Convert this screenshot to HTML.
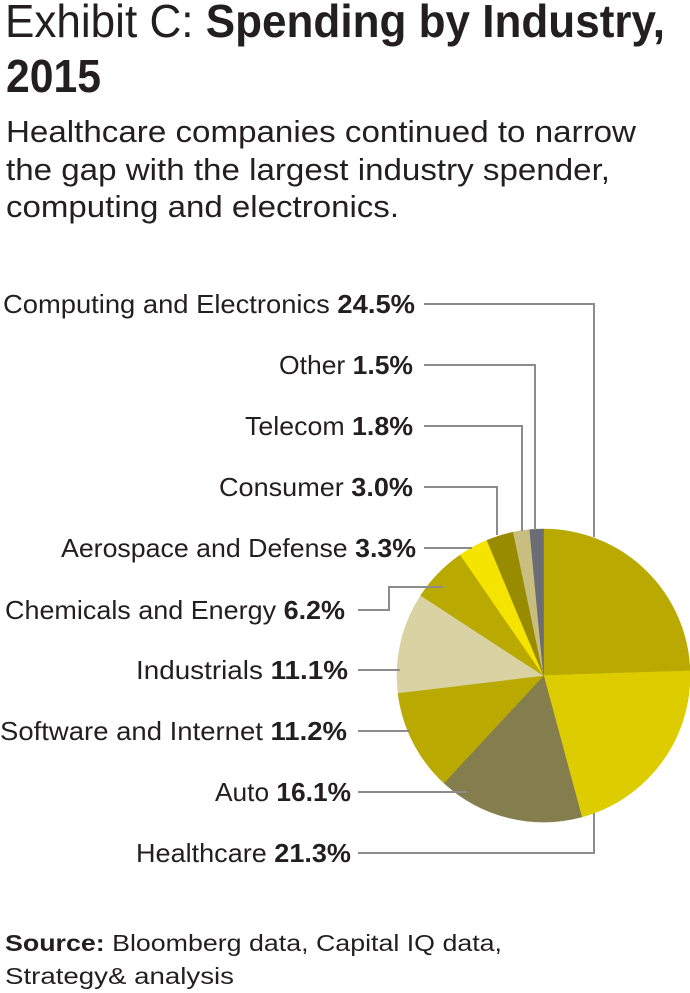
<!DOCTYPE html>
<html>
<head>
<meta charset="utf-8">
<style>
  html,body{margin:0;padding:0;background:#fff;}
  body{width:690px;height:993px;overflow:hidden;}
  svg{display:block;}
  text{font-family:"Liberation Sans",sans-serif;fill:#231f20;}
  .b{font-weight:bold;}
</style>
</head>
<body>
<svg width="690" height="993" viewBox="0 0 690 993" xmlns="http://www.w3.org/2000/svg">
  <!-- Title -->
  <text x="5" y="37" font-size="46" textLength="660" lengthAdjust="spacingAndGlyphs">Exhibit C: <tspan class="b">Spending by Industry,</tspan></text>
  <text x="6" y="92" font-size="46" class="b" textLength="95" lengthAdjust="spacingAndGlyphs">2015</text>

  <!-- Subtitle -->
  <text x="6" y="142" font-size="31" textLength="630" lengthAdjust="spacingAndGlyphs">Healthcare companies continued to narrow</text>
  <text x="6" y="180" font-size="31" textLength="604" lengthAdjust="spacingAndGlyphs">the gap with the largest industry spender,</text>
  <text x="6" y="217" font-size="31" textLength="393" lengthAdjust="spacingAndGlyphs">computing and electronics.</text>

  <!-- Pie -->
  <g stroke-width="0.6">
    <path d="M543.5 675.5 L543.5 529 A146.5 146.5 0 0 1 689.93 670.90 Z" fill="#b9a900" stroke="#b9a900"/>
    <path d="M543.5 675.5 L689.93 670.90 A146.5 146.5 0 0 1 581.71 816.93 Z" fill="#ddcc00" stroke="#ddcc00"/>
    <path d="M543.5 675.5 L581.71 816.93 A146.5 146.5 0 0 1 443.87 782.91 Z" fill="#847e4e" stroke="#847e4e"/>
    <path d="M543.5 675.5 L443.87 782.91 A146.5 146.5 0 0 1 398.04 692.95 Z" fill="#b9a900" stroke="#b9a900"/>
    <path d="M543.5 675.5 L398.04 692.95 A146.5 146.5 0 0 1 420.79 595.47 Z" fill="#d9d2a3" stroke="#d9d2a3"/>
    <path d="M543.5 675.5 L420.79 595.47 A146.5 146.5 0 0 1 460.40 554.85 Z" fill="#b9a900" stroke="#b9a900"/>
    <path d="M543.5 675.5 L460.40 554.85 A146.5 146.5 0 0 1 487.01 540.33 Z" fill="#f5e400" stroke="#f5e400"/>
    <path d="M543.5 675.5 L487.01 540.33 A146.5 146.5 0 0 1 513.34 532.14 Z" fill="#998b00" stroke="#998b00"/>
    <path d="M543.5 675.5 L513.34 532.14 A146.5 146.5 0 0 1 529.71 529.65 Z" fill="#c8be80" stroke="#c8be80"/>
    <path d="M543.5 675.5 L529.71 529.65 A146.5 146.5 0 0 1 543.5 529 Z" fill="#6c6c74" stroke="#6c6c74"/>
  </g>

  <!-- Leader lines -->
  <g fill="none" stroke="#8c8c8c" stroke-width="2">
    <path d="M424 304 H594 V537"/>
    <path d="M424 365 H535 V530"/>
    <path d="M424 426 H522 V531"/>
    <path d="M424 487 H497 V535"/>
    <path d="M424 548 H472"/>
    <path d="M358 610 H389 V587 H443"/>
    <path d="M358 670 H400"/>
    <path d="M358 731 H410"/>
    <path d="M358 792 H467"/>
    <path d="M358 853 H594 V813"/>
  </g>

  <!-- Labels -->
  <g font-size="26">
    <text x="3" y="313" textLength="412" lengthAdjust="spacingAndGlyphs">Computing and Electronics <tspan class="b">24.5%</tspan></text>
    <text x="279" y="374" textLength="134" lengthAdjust="spacingAndGlyphs">Other <tspan class="b">1.5%</tspan></text>
    <text x="245" y="435" textLength="168" lengthAdjust="spacingAndGlyphs">Telecom <tspan class="b">1.8%</tspan></text>
    <text x="219" y="496" textLength="194" lengthAdjust="spacingAndGlyphs">Consumer <tspan class="b">3.0%</tspan></text>
    <text x="61" y="557" textLength="355" lengthAdjust="spacingAndGlyphs">Aerospace and Defense <tspan class="b">3.3%</tspan></text>
    <text x="5" y="619" textLength="340" lengthAdjust="spacingAndGlyphs">Chemicals and Energy <tspan class="b">6.2%</tspan></text>
    <text x="136" y="679" textLength="212" lengthAdjust="spacingAndGlyphs">Industrials <tspan class="b">11.1%</tspan></text>
    <text x="0" y="740" textLength="347" lengthAdjust="spacingAndGlyphs">Software and Internet <tspan class="b">11.2%</tspan></text>
    <text x="215" y="801" textLength="136" lengthAdjust="spacingAndGlyphs">Auto <tspan class="b">16.1%</tspan></text>
    <text x="136" y="862" textLength="215" lengthAdjust="spacingAndGlyphs">Healthcare <tspan class="b">21.3%</tspan></text>
  </g>

  <!-- Source -->
  <text x="5" y="951" font-size="23" textLength="497" lengthAdjust="spacingAndGlyphs"><tspan class="b">Source:</tspan> Bloomberg data, Capital IQ data,</text>
  <text x="5" y="984" font-size="23" textLength="229" lengthAdjust="spacingAndGlyphs">Strategy&amp; analysis</text>
</svg>
</body>
</html>
